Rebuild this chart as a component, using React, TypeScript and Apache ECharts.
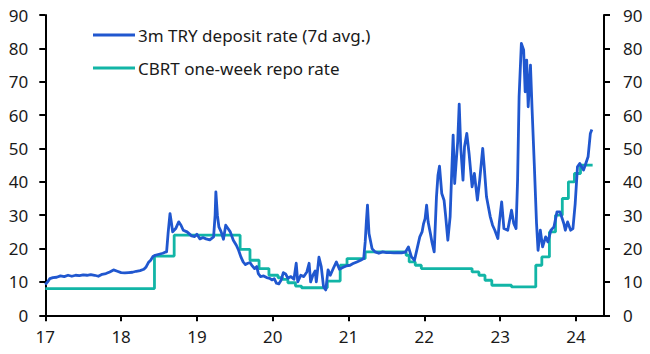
import React, { useEffect, useRef } from "react";
import * as echarts from "echarts";

// x positions are decimal years (17 = Jan 2017)
const xTicks = [17, 18, 19, 20, 21, 22, 23, 24];
const yTicks = [0, 10, 20, 30, 40, 50, 60, 70, 80, 90];

const depositLabel = "3m TRY deposit rate (7d avg.)";
const repoLabel = "CBRT one-week repo rate";

const depositRate: [number, number][] = [
  [17.0, 9.2], [17.03, 10.0], [17.06, 11.0], [17.1, 11.3], [17.15, 11.4], [17.2, 11.8], [17.25, 11.6],
  [17.3, 12.0], [17.35, 11.7], [17.4, 12.0], [17.45, 11.9], [17.5, 12.1], [17.55, 12.0], [17.6, 12.2],
  [17.65, 12.0], [17.7, 11.7], [17.75, 12.3], [17.8, 12.5], [17.85, 13.0], [17.9, 13.6], [17.95, 13.2],
  [18.0, 12.8], [18.05, 12.7], [18.1, 12.8], [18.15, 12.9], [18.2, 13.2], [18.25, 13.4], [18.3, 13.8],
  [18.33, 14.5], [18.36, 15.8], [18.39, 16.5], [18.42, 17.6], [18.45, 18.0], [18.5, 18.3], [18.55, 18.6],
  [18.58, 18.9], [18.6, 19.0], [18.62, 24.6], [18.645, 30.5], [18.665, 27.5], [18.68, 25.0], [18.72, 26.0],
  [18.76, 28.0], [18.79, 27.0], [18.82, 25.5], [18.87, 25.0], [18.93, 23.8], [18.97, 23.6], [19.0, 24.3],
  [19.04, 22.9], [19.08, 23.3], [19.12, 22.9], [19.17, 22.6], [19.22, 23.5], [19.24, 30.0], [19.25, 37.0],
  [19.27, 30.0], [19.29, 26.5], [19.32, 25.0], [19.35, 22.8], [19.38, 27.0], [19.41, 26.0], [19.44, 25.0],
  [19.48, 22.5], [19.52, 21.0], [19.55, 19.5], [19.58, 17.5], [19.61, 16.0], [19.64, 15.2], [19.67, 15.6],
  [19.7, 15.8], [19.73, 14.8], [19.76, 14.0], [19.79, 14.6], [19.81, 12.5], [19.84, 11.6], [19.88, 11.8],
  [19.92, 11.3], [19.96, 11.1], [19.99, 10.6], [20.02, 11.0], [20.05, 9.6], [20.08, 9.4], [20.11, 10.5],
  [20.14, 12.8], [20.17, 12.4], [20.2, 11.1], [20.24, 11.6], [20.28, 10.8], [20.31, 15.6], [20.33, 10.0],
  [20.37, 12.0], [20.41, 11.6], [20.45, 13.0], [20.48, 15.6], [20.5, 10.0], [20.53, 12.0], [20.56, 13.3],
  [20.575, 10.0], [20.61, 17.4], [20.64, 14.6], [20.67, 8.6], [20.7, 7.6], [20.73, 13.6], [20.76, 12.0],
  [20.8, 14.1], [20.84, 16.0], [20.88, 13.8], [20.93, 14.4], [20.97, 14.8], [21.02, 15.0], [21.06, 15.5],
  [21.11, 16.0], [21.16, 16.5], [21.2, 17.0], [21.22, 22.0], [21.235, 28.0], [21.25, 33.0], [21.27, 24.5],
  [21.31, 20.0], [21.35, 19.0], [21.4, 18.6], [21.45, 19.0], [21.5, 18.8], [21.55, 18.8], [21.6, 18.7],
  [21.65, 18.8], [21.7, 18.7], [21.75, 18.9], [21.79, 20.5], [21.83, 17.5], [21.87, 16.5], [21.91, 20.5],
  [21.94, 23.5], [21.97, 25.0], [21.99, 27.5], [22.01, 29.0], [22.03, 33.0], [22.05, 28.0], [22.08, 24.5],
  [22.1, 22.0], [22.13, 19.0], [22.16, 35.5], [22.18, 42.0], [22.2, 44.7], [22.23, 36.5], [22.26, 34.5],
  [22.28, 30.0], [22.31, 22.5], [22.34, 29.5], [22.36, 42.0], [22.38, 54.0], [22.4, 39.5], [22.42, 46.0],
  [22.44, 52.0], [22.46, 63.3], [22.48, 50.5], [22.51, 40.5], [22.53, 50.5], [22.56, 54.5], [22.59, 48.5],
  [22.63, 38.5], [22.66, 42.5], [22.7, 34.5], [22.73, 40.5], [22.77, 50.0], [22.79, 44.5], [22.82, 35.5],
  [22.87, 29.5], [22.9, 27.0], [22.93, 25.5], [22.97, 23.0], [22.99, 28.0], [23.02, 34.0], [23.05, 26.0],
  [23.1, 25.5], [23.15, 31.5], [23.18, 27.5], [23.21, 26.0], [23.23, 40.5], [23.25, 65.5], [23.28, 81.5],
  [23.31, 79.5], [23.33, 67.0], [23.35, 76.5], [23.37, 62.5], [23.4, 75.0], [23.42, 62.5], [23.45, 45.5],
  [23.48, 27.5], [23.5, 19.5], [23.53, 25.5], [23.56, 20.5], [23.6, 23.5], [23.63, 22.0], [23.67, 25.5],
  [23.71, 26.5], [23.75, 31.0], [23.79, 31.0], [23.84, 27.5], [23.86, 25.5], [23.89, 28.0], [23.93, 25.5],
  [23.96, 26.0], [23.99, 33.5], [24.02, 44.5], [24.05, 45.5], [24.1, 43.5], [24.13, 45.5], [24.16, 47.5],
  [24.19, 54.5], [24.21, 55.7],
];

// each point: date of a policy change and the new rate
const repoRate: [number, number][] = [
  [17.0, 8.0], [18.44, 17.75], [18.7, 24.0], [19.57, 19.75], [19.7, 16.5], [19.82, 14.0], [19.95, 12.0],
  [20.07, 11.25], [20.13, 10.75], [20.2, 9.75], [20.3, 8.75], [20.38, 8.25], [20.72, 10.25], [20.89, 15.0],
  [20.98, 17.0], [21.22, 19.0], [21.76, 18.0], [21.8, 16.0], [21.88, 15.0], [21.96, 14.0], [22.63, 13.0],
  [22.72, 12.0], [22.8, 10.5], [22.89, 9.0], [23.15, 8.5], [23.47, 15.0], [23.55, 17.5], [23.65, 25.0],
  [23.73, 30.0], [23.82, 35.0], [23.9, 40.0], [23.98, 42.5], [24.06, 45.0], [24.22, 45.0],
];

const FONT = "'Noto Sans', sans-serif";
const BLUE = "#2057cf";
const TEAL = "#12b5a6";

export default function App() {
  const ref = useRef<HTMLDivElement>(null);
  useEffect(() => {
    if (!ref.current) return;
    const chart = echarts.init(ref.current, null, { renderer: "svg" });
    const yAxisBase = {
      type: "value",
      min: 0,
      max: 90,
      interval: 10,
      splitLine: { show: false },
      axisLine: { show: true, lineStyle: { color: "#000", width: 2 } },
      axisTick: { show: true, length: 6, lineStyle: { color: "#000", width: 2 } },
      axisLabel: { fontFamily: FONT, fontSize: 17, color: "#1a1a1a", margin: 17 },
    };
    chart.setOption({
      animation: false,
      backgroundColor: "#fff",
      grid: { left: 45.3, right: 46, top: 15, bottom: 38.7 },
      legend: {
        orient: "vertical",
        left: 88,
        top: 20,
        icon: "rect",
        itemWidth: 42,
        itemHeight: 3,
        itemGap: 13,
        textStyle: { fontFamily: FONT, fontSize: 17, color: "#1a1a1a", lineHeight: 20, padding: [0, 0, 0, -2] },
        data: [depositLabel, repoLabel],
      },
      xAxis: {
        type: "value",
        min: 17,
        max: 24.37,
        splitLine: { show: false },
        axisLine: { show: true, onZero: false, lineStyle: { color: "#000", width: 2 } },
        axisTick: { show: true, length: 6, customValues: xTicks, lineStyle: { color: "#000", width: 2 } },
        axisLabel: {
          fontFamily: FONT,
          fontSize: 17,
          color: "#1a1a1a",
          margin: 13,
          customValues: xTicks,
          formatter: (v: number) => String(Math.round(v)),
        },
      },
      yAxis: [
        { ...yAxisBase, position: "left", axisLabel: { ...yAxisBase.axisLabel, customValues: yTicks } },
        { ...yAxisBase, position: "right", axisLabel: { ...yAxisBase.axisLabel, margin: 19, customValues: yTicks } },
      ],
      series: [
        {
          name: repoLabel,
          type: "line",
          step: "end",
          data: repoRate,
          showSymbol: false,
          yAxisIndex: 0,
          z: 2,
          lineStyle: { color: TEAL, width: 2.8 },
          itemStyle: { color: TEAL },
        },
        {
          name: depositLabel,
          type: "line",
          data: depositRate,
          showSymbol: false,
          yAxisIndex: 0,
          z: 3,
          lineStyle: { color: BLUE, width: 2.8, join: "round" },
          itemStyle: { color: BLUE },
        },
      ],
    });
    return () => chart.dispose();
  }, []);
  return <div ref={ref} style={{ width: 650, height: 354, position: "absolute", left: 0, top: 0 }} />;
}
